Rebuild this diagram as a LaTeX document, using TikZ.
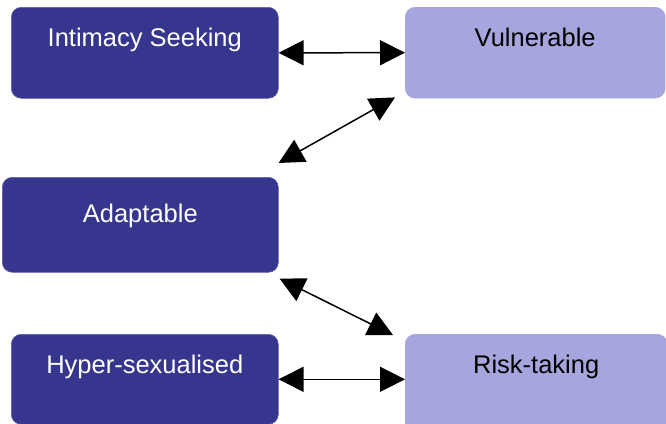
\documentclass[tikz,border=0pt]{standalone}
\usepackage{fontspec}
\setmainfont{Liberation Sans}
\usetikzlibrary{arrows.meta}
\definecolor{darkbox}{RGB}{55,54,143}
\definecolor{lightbox}{RGB}{166,165,221}
\tikzset{
  box/.style={anchor=north west, rounded corners=10pt, inner xsep=0pt, inner ysep=0pt,
    font=\fontsize{25.5}{28}\selectfont, text height=39pt, align=center},
  darkb/.style={box, fill=darkbox, draw=darkbox!80!white, line width=0.6pt, text=white},
  lightb/.style={box, fill=lightbox, draw=lightbox, text=black},
  link/.style={line width=1.5pt, {Triangle[length=25pt,width=25pt]}-{Triangle[length=25pt,width=25pt]}}
}
\begin{document}
\begin{tikzpicture}[x=1pt,y=-1pt]
\useasboundingbox (0,0) rectangle (666,423);
\clip (0,0) rectangle (666,423);
\node[darkb, minimum width=267pt, minimum height=91pt, text depth=52pt] (int) at (11,7) {Intimacy Seeking};
\node[lightb, minimum width=260pt, minimum height=91pt, text depth=52pt] (vul) at (405,7) {Vulnerable};
\node[darkb, minimum width=276pt, minimum height=95pt, text depth=52pt] (ada) at (2,177) {\raisebox{-4pt}{Adaptable}};
\node[darkb, minimum width=267pt, minimum height=90pt, text depth=51pt] (hyp) at (11,334) {Hyper-sexualised};
\node[lightb, minimum width=262pt, minimum height=100pt, text depth=61pt] (risk) at (405,334) {Risk-taking};
\draw[link] (int.east) -- (vul.west);
\draw[link] ([xshift=0pt,yshift=14pt]ada.north east) -- ([xshift=-10pt,yshift=1pt]vul.south west);
\draw[link] ([xshift=1pt,yshift=-6pt]ada.south east) -- ([xshift=-12pt,yshift=-1pt]risk.north west);
\draw[link] (hyp.east) -- (risk.west |- hyp.east);
\end{tikzpicture}
\end{document}
